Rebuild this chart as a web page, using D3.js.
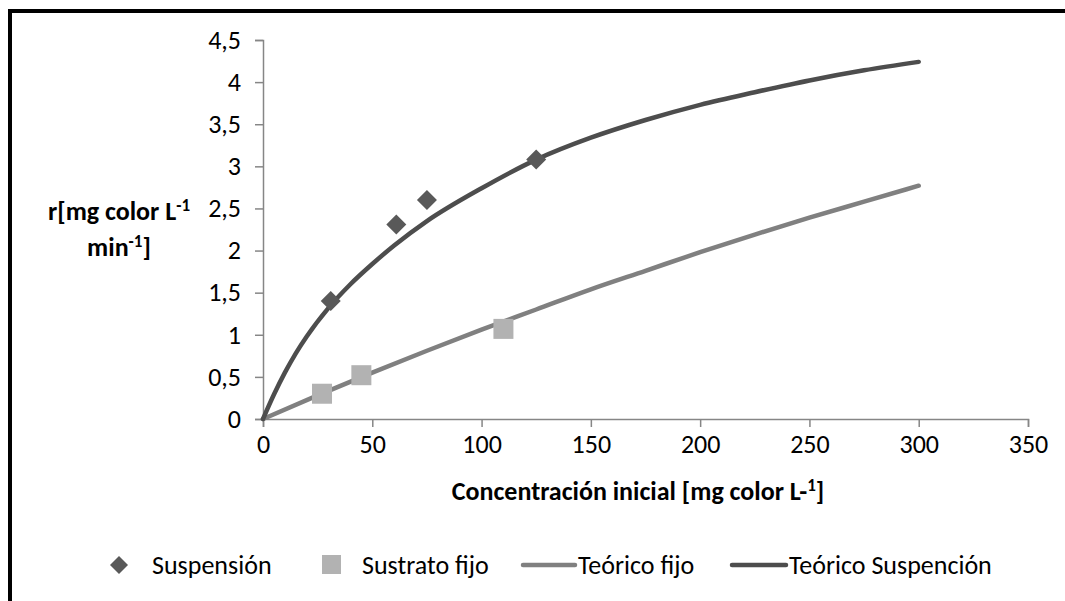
<!DOCTYPE html>
<html><head><meta charset="utf-8">
<script src="https://cdn.jsdelivr.net/npm/d3@7/dist/d3.min.js"></script>
<style>
body{margin:0;background:#fff;}
svg{display:block;font-family:Carlito,Lato,"Open Sans",sans-serif;}
</style></head>
<body><svg id="c" width="1065" height="601"></svg>
<script>
// Data
const suspensionX = [31, 61, 75, 125];
const suspensionY = [1.40, 2.31, 2.60, 3.08];
const fijoX = [27, 45, 110];
const fijoY = [0.30, 0.52, 1.07];
const teoFijoX = [0, 25, 50, 75, 100, 125, 150, 175, 200, 225, 250, 275, 300];
const teoFijoY = [0, 0.28, 0.55, 0.81, 1.06, 1.30, 1.54, 1.76, 1.98, 2.19, 2.39, 2.58, 2.77];
const teoSuspX = [0, 5, 10, 15, 20, 30, 40, 50, 60, 75, 100, 125, 150, 175, 200, 225, 250, 275, 300];
const teoSuspY = [0, 0.29, 0.55, 0.78, 0.98, 1.32, 1.60, 1.84, 2.06, 2.35, 2.74, 3.08, 3.34, 3.55, 3.73, 3.88, 4.02, 4.14, 4.24];
const xTicks = [0, 50, 100, 150, 200, 250, 300, 350];
const yTicks = [0, 0.5, 1, 1.5, 2, 2.5, 3, 3.5, 4, 4.5];
const legendNames = ["Suspensión", "Sustrato fijo", "Teórico fijo", "Teórico Suspención"];

const svg = d3.select("#c");
const x = d3.scaleLinear().domain([0, 350]).range([263, 1028]);
const y = d3.scaleLinear().domain([0, 4.5]).range([419, 40]);
const fmt = d => String(d).replace(".", ",");
const axisCol = "#868686";
const cSusp = "#595959", cFijo = "#b2b2b2", cLF = "#808080", cLS = "#4d4d4d";
const FF = "Carlito,Lato,sans-serif";

// outer border
svg.append("rect").attr("x", 10).attr("y", 11).attr("width", 1100).attr("height", 700)
  .attr("fill", "none").attr("stroke", "#000").attr("stroke-width", 4);

// axes
const gx = svg.append("g").attr("transform", "translate(0,419)")
  .call(d3.axisBottom(x).tickValues(xTicks).tickFormat(fmt).tickSizeOuter(0).tickSize(8).tickPadding(8));
const gy = svg.append("g").attr("transform", "translate(263,0)")
  .call(d3.axisLeft(y).tickValues(yTicks).tickFormat(fmt).tickSizeOuter(0).tickSize(8).tickPadding(14));
[gx, gy].forEach(g => {
  g.select(".domain").attr("stroke", axisCol).attr("stroke-width", 1.5);
  g.selectAll(".tick line").attr("stroke", axisCol).attr("stroke-width", 1.5);
  g.selectAll(".tick text").attr("fill", "#000").style("font-size", "26px").style("font-family", FF);
});

// lines
const line = d3.line().x(d => x(d[0])).y(d => y(d[1])).curve(d3.curveMonotoneX);
svg.append("path").datum(d3.zip(teoFijoX, teoFijoY)).attr("d", line)
  .attr("fill", "none").attr("stroke", cLF).attr("stroke-width", 4.5).attr("stroke-linecap", "round");
svg.append("path").datum(d3.zip(teoSuspX, teoSuspY)).attr("d", line)
  .attr("fill", "none").attr("stroke", cLS).attr("stroke-width", 4.5).attr("stroke-linecap", "round");

// markers
const sq = 20, dm = 10;
svg.append("g").selectAll("rect").data(d3.zip(fijoX, fijoY)).join("rect")
  .attr("x", d => x(d[0]) - sq / 2).attr("y", d => y(d[1]) - sq / 2)
  .attr("width", sq).attr("height", sq).attr("fill", cFijo);
const diamond = (cx, cy, r) => `M${cx},${cy - r}L${cx + r},${cy}L${cx},${cy + r}L${cx - r},${cy}Z`;
svg.append("g").selectAll("path").data(d3.zip(suspensionX, suspensionY)).join("path")
  .attr("d", d => diamond(x(d[0]), y(d[1]), dm)).attr("fill", cSusp);

// axis titles
const xt = svg.append("text").attr("x", 638).attr("y", 500).attr("text-anchor", "middle")
  .style("font-size", "26px").style("font-weight", "bold");
xt.append("tspan").text("Concentración inicial [mg color L-");
xt.append("tspan").attr("dy", -9).style("font-size", "17px").text("1");
xt.append("tspan").attr("dy", 9).text("]");

const yt1 = svg.append("text").attr("x", 119).attr("y", 220).attr("text-anchor", "middle")
  .style("font-size", "26px").style("font-weight", "bold");
yt1.append("tspan").text("r[mg color L");
yt1.append("tspan").attr("dy", -9).style("font-size", "17px").text("-1");
const yt2 = svg.append("text").attr("x", 119).attr("y", 256).attr("text-anchor", "middle")
  .style("font-size", "26px").style("font-weight", "bold");
yt2.append("tspan").text("min");
yt2.append("tspan").attr("dy", -9).style("font-size", "17px").text("-1");
yt2.append("tspan").attr("dy", 9).text("]");

// legend
const ly = 565;
const lg = svg.append("g").style("font-size", "26px");
lg.append("path").attr("d", diamond(119, ly, 9)).attr("fill", cSusp);
lg.append("text").attr("x", 152).attr("y", ly + 9).text(legendNames[0]);
lg.append("rect").attr("x", 322).attr("y", ly - 10).attr("width", 19).attr("height", 19).attr("fill", cFijo);
lg.append("text").attr("x", 362).attr("y", ly + 9).text(legendNames[1]);
lg.append("line").attr("x1", 523).attr("x2", 575).attr("y1", ly).attr("y2", ly)
  .attr("stroke", cLF).attr("stroke-width", 4.5).attr("stroke-linecap", "round");
lg.append("text").attr("x", 578).attr("y", ly + 9).text(legendNames[2]);
lg.append("line").attr("x1", 732).attr("x2", 786).attr("y1", ly).attr("y2", ly)
  .attr("stroke", cLS).attr("stroke-width", 4.5).attr("stroke-linecap", "round");
lg.append("text").attr("x", 789).attr("y", ly + 9).text(legendNames[3]);
</script></body></html>
